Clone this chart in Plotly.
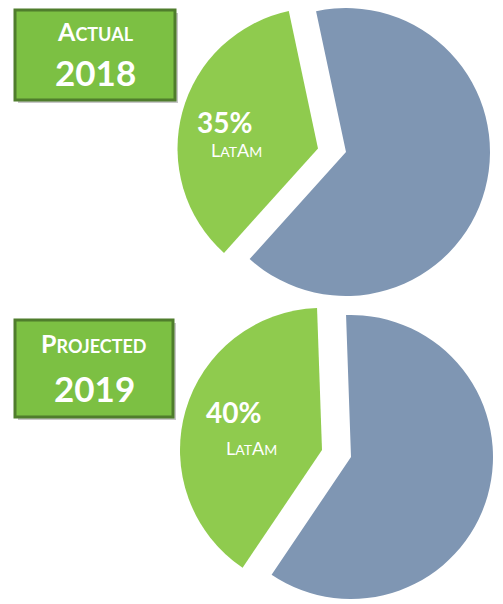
import plotly.graph_objects as go

# data
statuses = ['Actual', 'Projected']
years = ['2018', '2019']
region = 'LatAm'
latam_share = [35, 40]
other_share = [65, 60]

# the page body keeps its default 8px margin, so the figure is placed at (8, 8)
OFF = 8
W, H = 503 - OFF, 604 - OFF
GREEN = '#8FCB4E'
GREY = '#7F96B3'
BOX_FILL = '#7CC043'
BOX_LINE = '#4F7D2C'
FONT = 'Lato, Open Sans, sans-serif'


def px(x):
    return (x - OFF) / W


def py(y):
    return 1 - (y - OFF) / H


def dom(cx, cy, r):
    # pie domain (paper coords) from a centre and radius in window pixels
    return dict(x=[max(0, px(cx - r)), min(1, px(cx + r))],
                y=[max(0, py(cy + r)), min(1, py(cy - r))])


def smallcaps(word, big, small):
    out = ''
    for ch in word:
        if ch.isupper():
            out += f'<span style="font-size:{big}px">{ch}</span>'
        else:
            out += f'<span style="font-size:{small}px">{ch.upper()}</span>'
    return out


# window-pixel layout of each panel: grey centre, green (pulled) centre, radius, rotation
panels = [
    dict(grey=(346, 151), green=(318, 144), r=145, rot=222,
         box=(15, 10, 175, 100), head_y=31, year_y=72, pct=(224, 122), reg=(236, 150)),
    dict(grey=(351, 457), green=(322, 450), r=142, rot=214,
         box=(15, 320, 173, 417), head_y=343, year_y=388, pct=(233, 412), reg=(251, 448)),
]

fig = go.Figure()
shapes = []
annotations = []

for i, p in enumerate(panels):
    vals = [latam_share[i], other_share[i]]
    labels = [region, 'Other']
    gx, gy = p['grey']
    lx, ly = p['green']
    r = p['r']
    # grey remainder
    fig.add_trace(go.Pie(
        values=vals, labels=labels, sort=False, direction='clockwise',
        rotation=p['rot'], domain=dom(gx, gy, r),
        marker=dict(colors=['rgba(0,0,0,0)', GREY], line=dict(width=0)),
        textinfo='none', hoverinfo='skip', showlegend=False,
    ))
    # green LatAm slice, pulled out
    fig.add_trace(go.Pie(
        values=vals, labels=labels, sort=False, direction='clockwise',
        rotation=p['rot'], domain=dom(lx, ly, r),
        marker=dict(colors=[GREEN, 'rgba(0,0,0,0)'], line=dict(width=0)),
        textinfo='none', hoverinfo='skip', showlegend=False,
    ))

    x0, y0, x1, y1 = p['box']
    # box shadow
    shapes.append(dict(type='rect', xref='paper', yref='paper',
                       x0=px(x0 + 3), x1=px(x1 + 3), y0=py(y1 + 3), y1=py(y0 + 3),
                       fillcolor='rgba(0,0,0,0.22)', line=dict(width=0)))
    shapes.append(dict(type='rect', xref='paper', yref='paper',
                       x0=px(x0), x1=px(x1), y0=py(y1), y1=py(y0),
                       fillcolor=BOX_FILL, line=dict(color=BOX_LINE, width=3)))
    bx = (x0 + x1) / 2
    annotations.append(dict(text='<b>' + smallcaps(statuses[i], 25, 18) + '</b>',
                            x=px(bx), y=py(p['head_y'])))
    annotations.append(dict(text=f'<b>{years[i]}</b>', font=dict(size=35),
                            x=px(bx), y=py(p['year_y'])))
    annotations.append(dict(text=f'<b>{latam_share[i]}%</b>', font=dict(size=28),
                            x=px(p['pct'][0]), y=py(p['pct'][1])))
    annotations.append(dict(text=smallcaps(region, 18, 14),
                            x=px(p['reg'][0]), y=py(p['reg'][1])))

for a in annotations:
    a.update(xref='paper', yref='paper', xanchor='center', yanchor='middle',
             showarrow=False)
    f = a.get('font', {})
    f.update(color='white', family=FONT)
    a['font'] = f

fig.update_layout(
    width=W, height=H,
    margin=dict(l=0, r=0, t=0, b=0),
    paper_bgcolor='white',
    plot_bgcolor='white',
    shapes=shapes,
    annotations=annotations,
    font=dict(family=FONT, color='white'),
)

fig.write_html("out.html")
